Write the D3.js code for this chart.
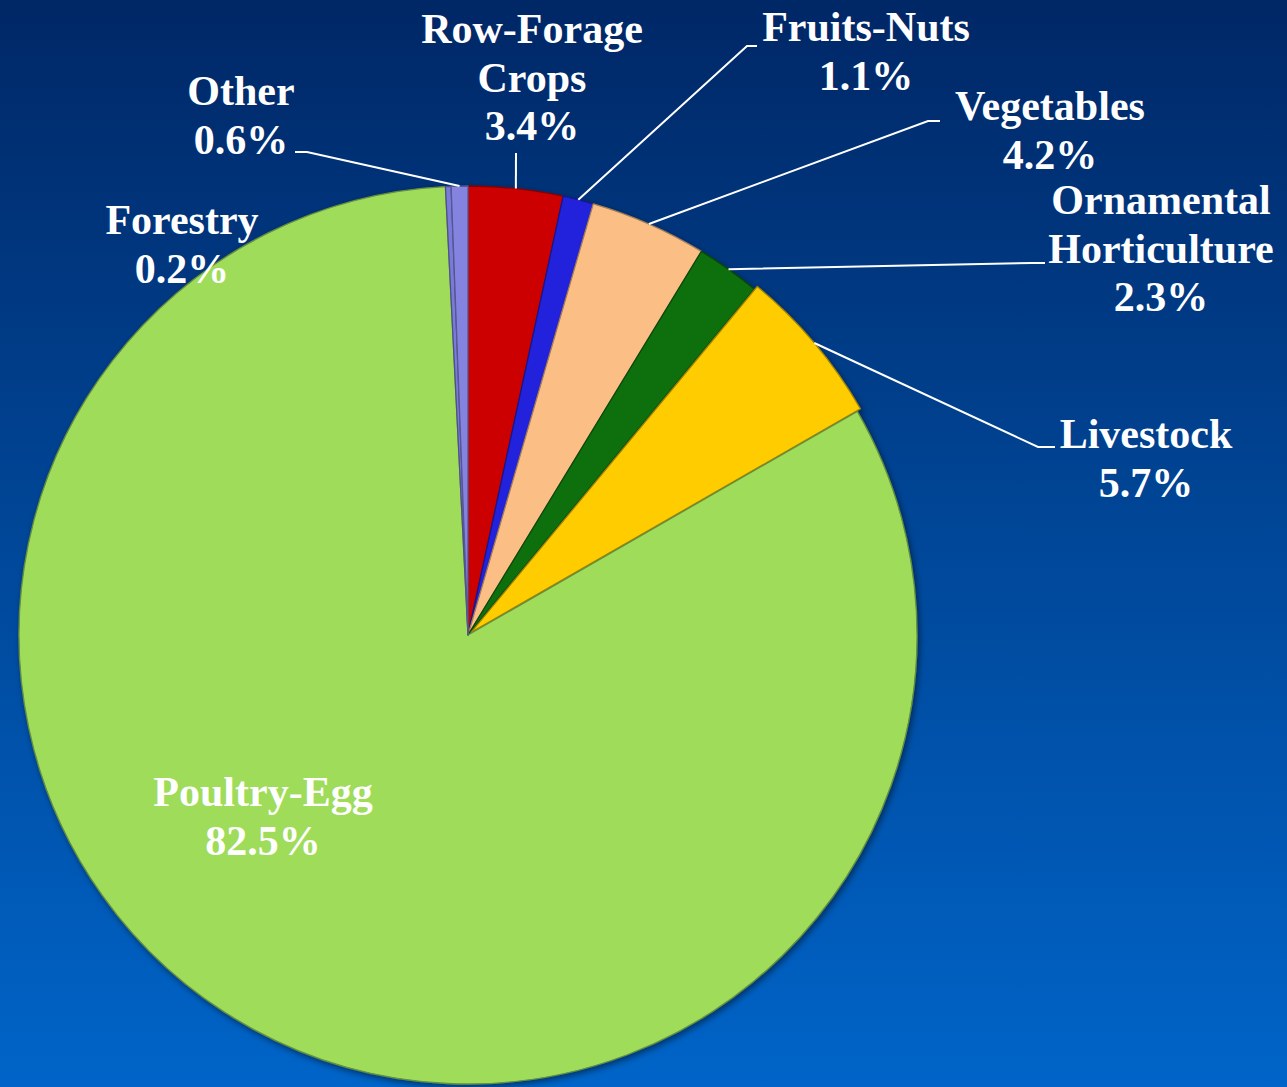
<!DOCTYPE html>
<html>
<head>
<meta charset="utf-8">
<script src="https://cdn.jsdelivr.net/npm/d3@7"></script>
<style>
  html, body { margin: 0; padding: 0; }
  body { width: 1287px; height: 1087px; overflow: hidden; }
  svg { display: block; }
  .lbl { font-family: "Times New Roman", "Liberation Serif", serif; font-weight: bold; font-size: 42px; fill: #fff; }
</style>
</head>
<body>
<svg width="1287" height="1087"></svg>
<script>
"use strict";

// 조각 순서 = 12시 방향부터 시계방향
const categories = ["Row-Forage Crops", "Fruits-Nuts", "Vegetables", "Ornamental Horticulture",
  "Livestock", "Poultry-Egg", "Forestry", "Other"];
const shares = [3.4, 1.1, 4.2, 2.3, 5.7, 82.5, 0.2, 0.6];
const nameLines = [["Row-Forage", "Crops"], ["Fruits-Nuts"], ["Vegetables"], ["Ornamental", "Horticulture"],
  ["Livestock"], ["Poultry-Egg"], ["Forestry"], ["Other"]];
const colors = ["#cc0000", "#2323dc", "#fbbf86", "#0b700b", "#ffcc00", "#9edc5a", "#7a7ad8", "#8484e0"];

// 라벨 배치 (텍스트 중심 x, 첫 줄 baseline y), 지시선 꺾임점
const labelPos = [[532, 43], [866, 41], [1050, 120], [1161, 214], [1146, 448], [263, 806], [182, 234], [241, 105]];
const leaderPos = [[516, 153, 516], [747, 46, 757], [928, 121, 940], [1032, 263, 1045],
  [1038, 447, 1055], null, null, [307, 152, 295]];
const explode = [0, 0, 0, 0, 4, 0, 0, 0];

const width = 1287, height = 1087;
const cx = 468, cy = 635, radius = 449;
const lineH = 48.5;

const svg = d3.select("svg");
const defs = svg.append("defs");

const bg = defs.append("linearGradient").attr("id", "bg")
  .attr("x1", 0).attr("y1", 0).attr("x2", 0).attr("y2", 1);
bg.append("stop").attr("offset", "0%").attr("stop-color", "#002766");
bg.append("stop").attr("offset", "45%").attr("stop-color", "#004494");
bg.append("stop").attr("offset", "100%").attr("stop-color", "#0064c8");

const shadow = defs.append("filter").attr("id", "shadow")
  .attr("x", "-10%").attr("y", "-10%").attr("width", "120%").attr("height", "120%");
shadow.append("feDropShadow").attr("dx", 2).attr("dy", 3).attr("stdDeviation", 3)
  .attr("flood-color", "#000").attr("flood-opacity", 0.45);

svg.append("rect").attr("width", width).attr("height", height).attr("fill", "url(#bg)");

const pie = d3.pie().sort(null).value((d) => d)(shares);
const arc = d3.arc().innerRadius(0).outerRadius(radius);
const edgeArc = d3.arc().innerRadius(radius).outerRadius(radius);

const g = svg.append("g").attr("transform", `translate(${cx},${cy})`);

g.append("g").attr("filter", "url(#shadow)")
  .selectAll("path")
  .data(pie)
  .join("path")
  .attr("d", arc)
  .attr("transform", (d, i) => {
    const a = (d.startAngle + d.endAngle) / 2;
    return `translate(${explode[i] * Math.sin(a)},${-explode[i] * Math.cos(a)})`;
  })
  .attr("fill", (d, i) => colors[i])
  .attr("stroke", (d, i) => d3.color(colors[i]).darker(1.2))
  .attr("stroke-width", 1.3)
  .attr("stroke-linejoin", "round");

// 지시선
g.append("g")
  .selectAll("polyline")
  .data(pie.filter((d, i) => leaderPos[i]))
  .join("polyline")
  .attr("points", (d) => {
    const p = leaderPos[d.index];
    const s = edgeArc.centroid(d);
    const a = (d.startAngle + d.endAngle) / 2;
    const ex = explode[d.index];
    return [[s[0] + ex * Math.sin(a), s[1] - ex * Math.cos(a)],
      [p[0] - cx, p[1] - cy], [p[2] - cx, p[1] - cy]].join(" ");
  })
  .attr("fill", "none")
  .attr("stroke", "#fff")
  .attr("stroke-width", 2);

// 라벨
const fmt = (v) => d3.format(".1f")(v) + "%";
svg.append("g")
  .selectAll("text")
  .data(categories)
  .join("text")
  .attr("class", "lbl")
  .attr("text-anchor", "middle")
  .attr("x", (d, i) => labelPos[i][0])
  .attr("y", (d, i) => labelPos[i][1])
  .each(function (d, i) {
    const t = d3.select(this);
    nameLines[i].concat([fmt(shares[i])]).forEach((line, k) => {
      t.append("tspan")
        .attr("x", labelPos[i][0])
        .attr("y", labelPos[i][1] + k * lineH)
        .text(line);
    });
  });
</script>
</body>
</html>
